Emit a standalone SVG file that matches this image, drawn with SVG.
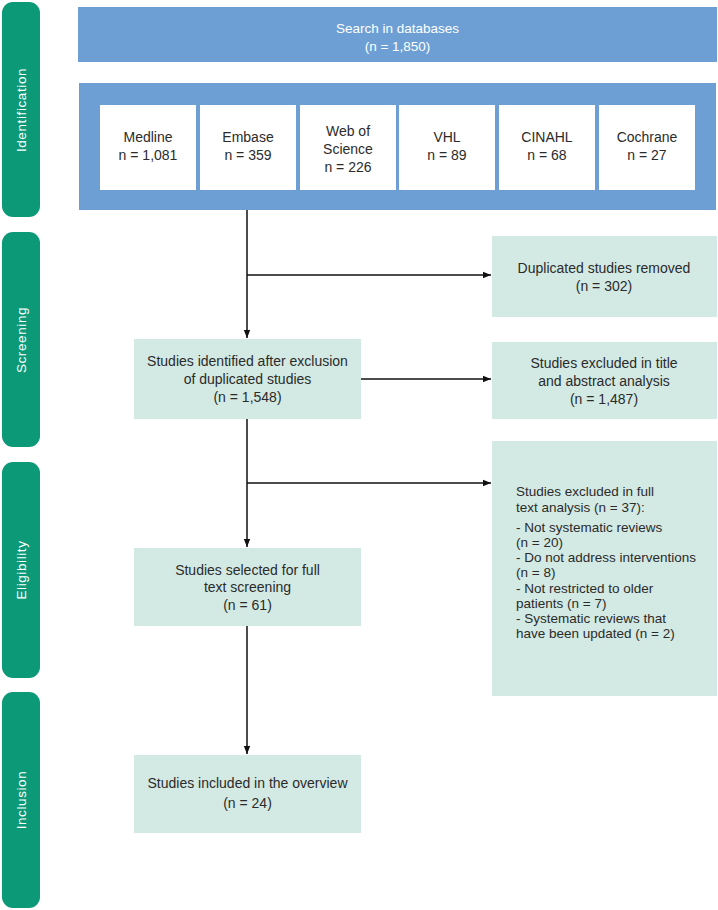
<svg xmlns="http://www.w3.org/2000/svg" width="718" height="910" viewBox="0 0 718 910">
<defs>
<marker id="arr" viewBox="0 0 10 10" refX="10" refY="5" markerWidth="8" markerHeight="8" markerUnits="userSpaceOnUse" orient="auto">
<path d="M0,1 L10,5 L0,9 z" fill="#111"/>
</marker>
<style>
.bar{fill:#0B9977}
.bar-t{fill:#fff;font-family:"Liberation Sans",Arial,sans-serif;font-size:13.5px;text-anchor:middle;letter-spacing:0.6px}
.blue{fill:#6D9FD5}
.wbox{fill:#fff}
.gbox{fill:#D3E9E3}
.t{fill:#2b2b2b;font-family:"Liberation Sans",Arial,sans-serif;font-size:14px;text-anchor:middle}
.tl{fill:#2b2b2b;font-family:"Liberation Sans",Arial,sans-serif;font-size:13.5px}
.tw{fill:#fff;font-family:"Liberation Sans",Arial,sans-serif;font-size:13.5px;text-anchor:middle}
.c{stroke:#111;stroke-width:1.5;fill:none}
</style>
</defs>
<rect width="718" height="910" fill="#fff"/>
<g id="phase-identification"><rect class="bar" x="2" y="2" width="38" height="215" rx="11"/><text class="bar-t" transform="translate(26,110) rotate(-90)">Identification</text></g>
<g id="phase-screening"><rect class="bar" x="2" y="232" width="38" height="215" rx="11"/><text class="bar-t" transform="translate(26,340) rotate(-90)">Screening</text></g>
<g id="phase-eligibility"><rect class="bar" x="2" y="462" width="38" height="216" rx="11"/><text class="bar-t" transform="translate(26,570) rotate(-90)">Eligibility</text></g>
<g id="phase-inclusion"><rect class="bar" x="2" y="692" width="38" height="216" rx="11"/><text class="bar-t" transform="translate(26,800) rotate(-90)">Inclusion</text></g>

<g id="search"><rect class="blue" x="78" y="7" width="639" height="55"/><text class="tw" x="397.5" y="33">Search in databases</text><text class="tw" x="397.5" y="51">(n = 1,850)</text></g>

<g id="databases"><rect class="blue" x="79" y="83" width="637" height="127"/></g>
<g id="medline"><rect class="wbox" x="100" y="105" width="96" height="85"/><text class="t" x="148" y="142">Medline</text><text class="t" x="148" y="160">n = 1,081</text></g>
<g id="embase"><rect class="wbox" x="200" y="105" width="96" height="85"/><text class="t" x="248" y="142">Embase</text><text class="t" x="248" y="160">n = 359</text></g>
<g id="wos"><rect class="wbox" x="300" y="105" width="96" height="85"/><text class="t" x="348" y="136">Web of</text><text class="t" x="348" y="154">Science</text><text class="t" x="348" y="172">n = 226</text></g>
<g id="vhl"><rect class="wbox" x="399" y="105" width="96" height="85"/><text class="t" x="447" y="142">VHL</text><text class="t" x="447" y="160">n = 89</text></g>
<g id="cinahl"><rect class="wbox" x="499" y="105" width="96" height="85"/><text class="t" x="547" y="142">CINAHL</text><text class="t" x="547" y="160">n = 68</text></g>
<g id="cochrane"><rect class="wbox" x="599" y="105" width="96" height="85"/><text class="t" x="647" y="142">Cochrane</text><text class="t" x="647" y="160">n = 27</text></g>

<g id="duplicates"><rect class="gbox" x="492" y="236" width="225" height="81"/><text class="t" x="604" y="273">Duplicated studies removed</text><text class="t" x="604" y="291">(n = 302)</text></g>
<g id="after-dup"><rect class="gbox" x="134" y="339" width="227" height="80"/><text class="t" x="247.5" y="366">Studies identified after exclusion</text><text class="t" x="247.5" y="384">of duplicated studies</text><text class="t" x="247.5" y="402">(n = 1,548)</text></g>
<g id="excl-title"><rect class="gbox" x="492" y="342" width="225" height="77"/><text class="t" x="604" y="368">Studies excluded in title</text><text class="t" x="604" y="386">and abstract analysis</text><text class="t" x="604" y="404">(n = 1,487)</text></g>
<g id="excl-full"><rect class="gbox" x="492" y="441" width="225" height="255"/>
<text class="tl" x="516" y="496">Studies excluded in full</text>
<text class="tl" x="516" y="512">text analysis (n = 37):</text>
<text class="tl" x="516" y="532">- Not systematic reviews</text>
<text class="tl" x="516" y="547">(n = 20)</text>
<text class="tl" x="516" y="562">- Do not address interventions</text>
<text class="tl" x="516" y="577">(n = 8)</text>
<text class="tl" x="516" y="593">- Not restricted to older</text>
<text class="tl" x="516" y="608">patients (n = 7)</text>
<text class="tl" x="516" y="623">- Systematic reviews that</text>
<text class="tl" x="516" y="638">have been updated (n = 2)</text></g>
<g id="full-text"><rect class="gbox" x="134" y="548" width="227" height="78"/><text class="t" x="247.5" y="575">Studies selected for full</text><text class="t" x="247.5" y="592">text screening</text><text class="t" x="247.5" y="610">(n = 61)</text></g>
<g id="included"><rect class="gbox" x="134" y="755" width="227" height="78"/><text class="t" x="247.5" y="788">Studies included in the overview</text><text class="t" x="247.5" y="808">(n = 24)</text></g>

<g id="connectors">
<path class="c" d="M247,210 V338" marker-end="url(#arr)"/>
<path class="c" d="M247,275 H491" marker-end="url(#arr)"/>
<path class="c" d="M361,379 H491" marker-end="url(#arr)"/>
<path class="c" d="M247,419 V547" marker-end="url(#arr)"/>
<path class="c" d="M247,483 H491" marker-end="url(#arr)"/>
<path class="c" d="M247,626 V754" marker-end="url(#arr)"/>
</g>
</svg>
